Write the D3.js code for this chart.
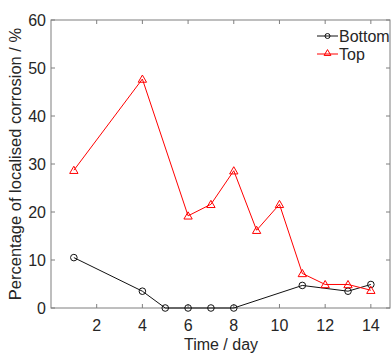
<!DOCTYPE html>
<html><head><meta charset="utf-8">
<script src="https://cdn.jsdelivr.net/npm/d3@7"></script>
<style>body{margin:0;background:#fff;}svg{display:block;font-family:"Liberation Sans",Arial,sans-serif;}</style>
</head><body>
<svg id="c" width="392" height="354"></svg>
<script>
const bottomDays = [1, 4, 5, 6, 7, 8, 11, 13, 14];
const bottomValues = [10.5, 3.5, 0, 0, 0, 0, 4.7, 3.5, 4.9];
const topDays = [1, 4, 6, 7, 8, 9, 10, 11, 12, 13, 14];
const topValues = [28.7, 47.7, 19.2, 21.6, 28.6, 16.2, 21.6, 7.2, 4.9, 4.9, 3.7];
const xTicks = [2, 4, 6, 8, 10, 12, 14];
const yTicks = [0, 10, 20, 30, 40, 50, 60];
const seriesNames = ["Bottom", "Top"];

const svg = d3.select("#c");
const x = d3.scaleLinear().domain([0, 15]).range([51, 393.7]);
const y = d3.scaleLinear().domain([0, 60]).range([308, 20]);
const L = 51, R = 390, T = 20, B = 308;
const axisCol = "#7f7f7f", textCol = "#262626";

// frame
const g = svg.append("g");
g.append("rect").attr("x", L).attr("y", T).attr("width", R - L).attr("height", B - T)
  .attr("fill", "none").attr("stroke", axisCol).attr("stroke-width", 1);

// ticks inward
xTicks.forEach(t => {
  g.append("line").attr("x1", x(t)).attr("x2", x(t)).attr("y1", B).attr("y2", B - 4).attr("stroke", axisCol);
  g.append("line").attr("x1", x(t)).attr("x2", x(t)).attr("y1", T).attr("y2", T + 4).attr("stroke", axisCol);
  g.append("text").attr("x", x(t)).attr("y", 331).attr("text-anchor", "middle")
    .attr("font-size", 16).attr("fill", textCol).text(t);
});
yTicks.forEach(t => {
  g.append("line").attr("x1", L).attr("x2", L + 4).attr("y1", y(t)).attr("y2", y(t)).attr("stroke", axisCol);
  g.append("line").attr("x1", R).attr("x2", R - 4).attr("y1", y(t)).attr("y2", y(t)).attr("stroke", axisCol);
  g.append("text").attr("x", 46).attr("y", y(t) + 6).attr("text-anchor", "end")
    .attr("font-size", 16).attr("fill", textCol).text(t);
});

// labels
svg.append("text").attr("x", 221).attr("y", 350).attr("text-anchor", "middle")
  .attr("font-size", 16).attr("fill", textCol).text("Time / day");
svg.append("text").attr("transform", "translate(21,164) rotate(-90)").attr("text-anchor", "middle")
  .attr("font-size", 16.5).attr("fill", textCol).text("Percentage of localised corrosion / %");

const line = d3.line().x(d => x(d[0])).y(d => y(d[1]));
const bottomData = bottomDays.map((d, i) => [d, bottomValues[i]]);
const topData = topDays.map((d, i) => [d, topValues[i]]);

const tri = d3.symbol().type(d3.symbolTriangle).size(30);

svg.append("path").datum(bottomData).attr("d", line).attr("fill", "none").attr("stroke", "#111").attr("stroke-width", 1);
svg.selectAll(".bc").data(bottomData).enter().append("circle")
  .attr("cx", d => x(d[0])).attr("cy", d => y(d[1])).attr("r", 3.3)
  .attr("fill", "none").attr("stroke", "#111").attr("stroke-width", 1);

svg.append("path").datum(topData).attr("d", line).attr("fill", "none").attr("stroke", "#ff0000").attr("stroke-width", 1);
svg.selectAll(".tt").data(topData).enter().append("path")
  .attr("d", tri).attr("transform", d => `translate(${x(d[0])},${y(d[1]) + 0.8})`)
  .attr("fill", "none").attr("stroke", "#ff0000").attr("stroke-width", 1);

// legend
const lg = svg.append("g");
const legendY = [36, 54];
const colors = ["#111", "#ff0000"];
seriesNames.forEach((n, i) => {
  lg.append("line").attr("x1", 317).attr("x2", 338).attr("y1", legendY[i]).attr("y2", legendY[i])
    .attr("stroke", colors[i]).attr("stroke-width", 1);
  if (i === 0) lg.append("circle").attr("cx", 327.5).attr("cy", legendY[i]).attr("r", 2.5)
    .attr("fill", "none").attr("stroke", colors[i]);
  else lg.append("path").attr("d", d3.symbol().type(d3.symbolTriangle).size(20))
    .attr("transform", `translate(327.5,${legendY[i] - 0.5})`).attr("fill", "none").attr("stroke", colors[i]);
  lg.append("text").attr("x", 339).attr("y", legendY[i] + 6).attr("font-size", 16)
    .attr("fill", textCol).text(n);
});
</script>
</body></html>
